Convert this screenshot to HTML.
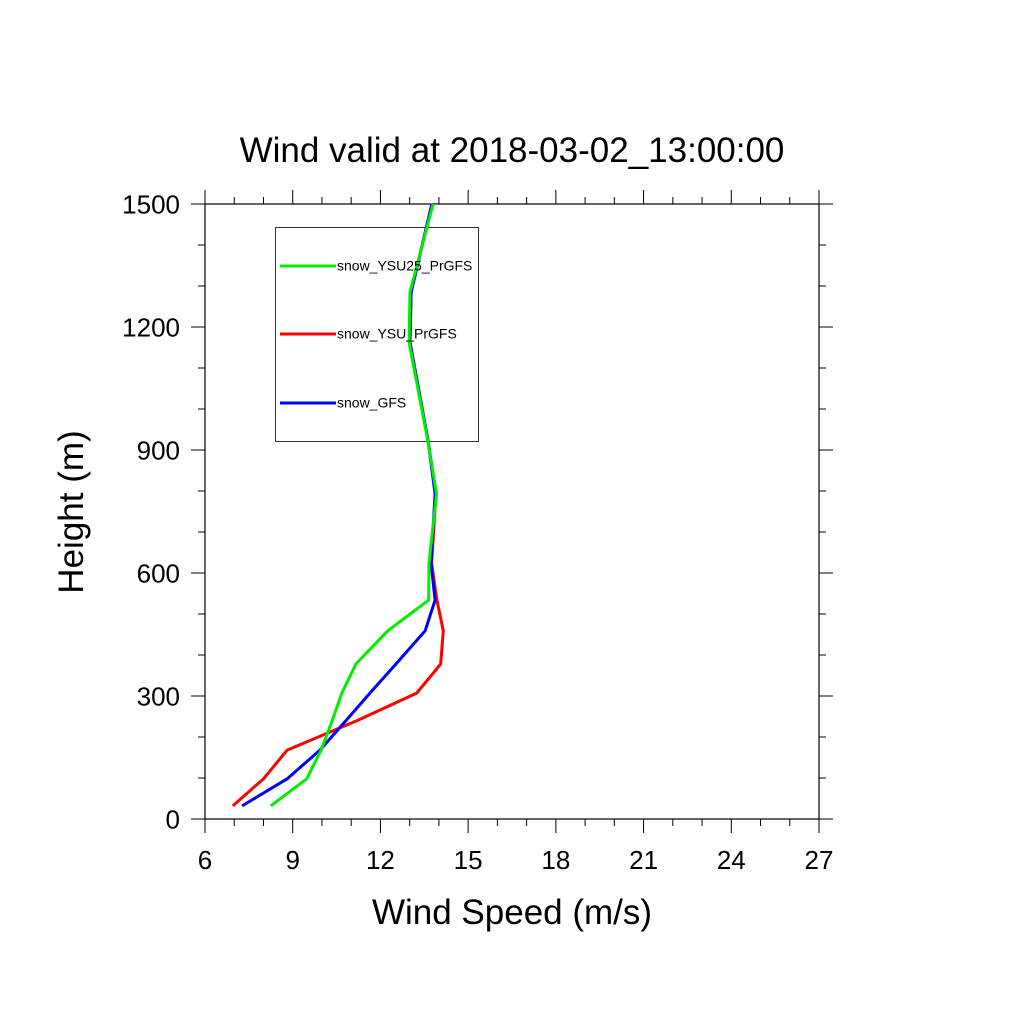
<!DOCTYPE html>
<html><head><meta charset="utf-8"><style>body{margin:0;background:#fff}svg{display:block}text{font-family:"Liberation Sans",sans-serif}</style></head>
<body>
<svg id="chart" width="1024" height="1024">
<text x="512" y="162" text-anchor="middle" font-size="35">Wind valid at 2018-03-02_13:00:00</text>
<g>
<rect x="275.5" y="227.5" width="203" height="214" fill="none" stroke="#000" stroke-width="0.8"/>
</g>
<g id="axes"></g>
<g id="series"></g>
<text x="512" y="924" text-anchor="middle" font-size="35">Wind Speed (m/s)</text>
<text transform="translate(83,512) rotate(-90)" text-anchor="middle" font-size="35">Height (m)</text>
</svg>
<script>
const heights=[32,98,168,240,307,378,459,534,624,793,922,1163,1285,1500];
const greenVals=[8.25,9.48,9.97,10.35,10.68,11.16,12.25,13.65,13.66,13.92,13.62,12.98,13.01,13.8];
const redVals=[6.95,8.0,8.81,11.2,13.24,14.06,14.15,13.93,13.75,13.9,13.63,13.01,13.05,13.76];
const blueVals=[7.27,8.81,9.93,10.82,11.64,12.53,13.53,13.87,13.73,13.87,13.63,13.01,13.05,13.76];
const xTicks=[6,9,12,15,18,21,24,27];
const yTicks=[0,300,600,900,1200,1500];
const seriesNames=["snow_YSU25_PrGFS","snow_YSU_PrGFS","snow_GFS"];
const NS="http://www.w3.org/2000/svg";
const X0=205,X1=819,Y0=819,Y1=204;
const xs=v=>X0+(v-6)*(X1-X0)/21;
const ys=h=>Y0-h*(Y0-Y1)/1500;
const ax=document.getElementById('axes');
function mk(tag,attrs,parent){const e=document.createElementNS(NS,tag);for(const k in attrs)e.setAttribute(k,attrs[k]);parent.appendChild(e);return e;}
const frame=mk('rect',{x:X0,y:Y1,width:X1-X0,height:Y0-Y1,fill:'none',stroke:'#000','stroke-width':1.2},ax);


for(let v=6;v<=27;v++){const major=(v-6)%3===0;const L=major?14:7;const x=xs(v);
 mk('line',{x1:x,x2:x,y1:Y0,y2:Y0+L,stroke:'#000','stroke-width':1},ax);
 mk('line',{x1:x,x2:x,y1:Y1,y2:Y1-L,stroke:'#000','stroke-width':1},ax);}
for(let h=0;h<=1500;h+=100){const major=h%300===0;const L=major?14:7;const y=ys(h);
 mk('line',{x1:X0,x2:X0-L,y1:y,y2:y,stroke:'#000','stroke-width':1},ax);
 mk('line',{x1:X1,x2:X1+L,y1:y,y2:y,stroke:'#000','stroke-width':1},ax);}
xTicks.forEach(v=>{const t=mk('text',{x:xs(v),y:869,'text-anchor':'middle','font-size':26},ax);t.textContent=v;
 
 });
yTicks.forEach(h=>{const t=mk('text',{x:180,y:ys(h)+9.5,'text-anchor':'end','font-size':26},ax);t.textContent=h;
 
 });
const sg=document.getElementById('series');
function line(vals,color,name){const p=mk('polyline',{points:vals.map((v,i)=>xs(v)+','+ys(heights[i])).join(' '),fill:'none',stroke:color,'stroke-width':3,'stroke-linejoin':'round'},sg);
 
 }
line(redVals,'#f00','series-ysu-prgfs');
line(blueVals,'#00f','series-gfs');
line(greenVals,'#0e0','series-ysu25-prgfs');
const svg=document.getElementById('chart');
const cols=['#0e0','#f00','#00f'];const ly=[266,334,403];
seriesNames.forEach((n,i)=>{const g=mk('g',{},svg);
 
 
 mk('line',{x1:280,x2:336,y1:ly[i],y2:ly[i],stroke:cols[i],'stroke-width':3},g);
 const t=mk('text',{x:337,y:ly[i]+4.5,'font-size':14},g);t.textContent=n;});
</script>
</body></html>
